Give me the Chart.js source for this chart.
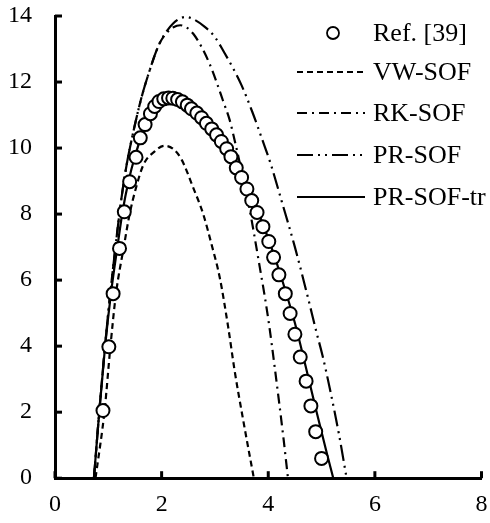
<!DOCTYPE html>
<html lang="en">
<head>
<meta charset="UTF-8">
<title>SOF curves</title>
<style>
  html, body { margin: 0; padding: 0; background: #fff; }
  #wrap { width: 490px; height: 523px; }
</style>
<script src="https://cdn.jsdelivr.net/npm/chart.js@4.4.0/dist/chart.umd.min.js"></script>
</head>
<body>
<div id="wrap"><canvas id="grafica"></canvas></div>
<script>
const xTicks = [0, 2, 4, 6, 8];
const yTicks = [0, 2, 4, 6, 8, 10, 12, 14];

// Ref. [39] (circles)
const refX = [0.90, 1.01, 1.09, 1.21, 1.30, 1.40, 1.52, 1.60, 1.69, 1.79, 1.87, 1.95, 2.04, 2.13, 2.21, 2.30, 2.39, 2.48, 2.56, 2.66,
              2.75, 2.84, 2.94, 3.03, 3.12, 3.22, 3.30, 3.40, 3.50, 3.60, 3.69, 3.79, 3.90, 4.01, 4.10, 4.20, 4.32, 4.41, 4.50, 4.60,
              4.71, 4.80, 4.89, 5.00];
const refY = [2.05, 3.98, 5.59, 6.96, 8.07, 8.98, 9.72, 10.31, 10.71, 11.04, 11.26, 11.41, 11.49, 11.52, 11.51, 11.47, 11.40, 11.30, 11.19, 11.06,
              10.92, 10.75, 10.58, 10.40, 10.20, 9.98, 9.74, 9.40, 9.11, 8.76, 8.41, 8.05, 7.62, 7.17, 6.69, 6.16, 5.59, 4.99, 4.36, 3.67,
              2.94, 2.19, 1.41, 0.60];

// VW-SOF
const vwX = [0.76, 0.93, 1.04, 1.145, 1.29, 1.40, 1.52, 1.66, 1.87, 2.05, 2.22, 2.375, 2.59, 2.78, 2.935, 3.09, 3.25, 3.37, 3.52, 3.73];
const vwY = [0, 2.05, 4.0, 5.6, 7.0, 8.0, 8.8, 9.5, 9.9, 10.07, 9.97, 9.65, 8.81, 8.0, 7.09, 6.08, 4.56, 3.25, 1.85, 0];

// RK-SOF
const rkX = [0.73, 0.84, 0.95, 1.05, 1.12, 1.20, 1.27, 1.35, 1.45, 1.57, 1.66, 1.785, 1.88, 1.97, 2.10, 2.22, 2.35, 2.47, 2.59, 2.75,
             2.90, 3.03, 3.15, 3.28, 3.37, 3.50, 3.65, 3.75, 3.84, 3.93, 4.02, 4.11, 4.20, 4.29, 4.37];
const rkY = [0, 2.2, 4.2, 5.8, 6.8, 7.9, 8.75, 9.55, 10.35, 11.2, 11.75, 12.4, 12.85, 13.2, 13.5, 13.66, 13.72, 13.65, 13.47, 13.06,
             12.55, 12.0, 11.44, 10.83, 10.23, 9.3, 8.15, 7.25, 6.4, 5.55, 4.6, 3.5, 2.35, 1.15, 0];

// PR-SOF
const prX = [0.73, 0.84, 0.95, 1.05, 1.12, 1.20, 1.27, 1.35, 1.45, 1.57, 1.66, 1.785, 1.88, 1.97, 2.10, 2.22, 2.35, 2.45, 2.60, 2.81,
             3.00, 3.18, 3.34, 3.50, 3.70, 3.90, 4.05, 4.25, 4.50, 4.74, 4.90, 5.02, 5.17, 5.33, 5.47];
const prY = [0, 2.2, 4.2, 5.8, 6.8, 7.9, 8.75, 9.55, 10.35, 11.2, 11.75, 12.4, 12.85, 13.2, 13.55, 13.78, 13.93, 13.97, 13.9, 13.67,
             13.36, 12.88, 12.42, 11.9, 11.1, 10.2, 9.5, 8.4, 7.0, 5.5, 4.45, 3.7, 2.6, 1.3, 0];

// PR-SOF-tr
const trX = [0.73, 0.83, 0.94, 1.05, 1.17, 1.27, 1.38, 1.50, 1.62, 1.75, 1.90, 2.05, 2.20, 2.35, 2.50, 2.70, 2.90, 3.10, 3.30, 3.50,
             3.70, 3.90, 4.10, 4.30, 4.50, 4.70, 4.90, 5.10, 5.22];
const trY = [0, 2.0, 4.0, 5.6, 7.0, 8.1, 9.0, 9.75, 10.35, 10.85, 11.25, 11.47, 11.52, 11.47, 11.33, 11.05, 10.7, 10.3, 9.8, 9.2,
             8.5, 7.7, 6.8, 5.8, 4.7, 3.4, 2.05, 0.75, 0];

const labels = ['Ref. [39]', 'VW-SOF', 'RK-SOF', 'PR-SOF', 'PR-SOF-tr'];

function pts(xs, ys) {
    return xs.map((x, i) => ({ x: x, y: ys[i] }));
}

const fontFam = "'Liberation Serif', 'Times New Roman', serif";

function lineSet(label, xs, ys, dash, width) {
    return {
        label: label,
        data: pts(xs, ys),
        showLine: true,
        borderColor: '#000',
        borderWidth: width,
        borderDash: dash,
        pointRadius: 0,
        fill: false,
        cubicInterpolationMode: 'monotone'
    };
}

// tick marks drawn inward, like the original plot
const insideTicks = {
    id: 'insideTicks',
    afterDraw(chart) {
        const ctx = chart.ctx;
        const xs = chart.scales.x, ys = chart.scales.y;
        const area = chart.chartArea;
        ctx.save();
        ctx.strokeStyle = '#000';
        ctx.lineWidth = 3;
        xTicks.forEach(v => {
            const px = xs.getPixelForValue(v);
            ctx.beginPath();
            ctx.moveTo(px, area.bottom);
            ctx.lineTo(px, area.bottom - 7);
            ctx.stroke();
        });
        yTicks.forEach(v => {
            const py = ys.getPixelForValue(v);
            ctx.beginPath();
            ctx.moveTo(area.left, py);
            ctx.lineTo(area.left + 7, py);
            ctx.stroke();
        });
        ctx.restore();
    }
};

// legend inside the plot, upper right
const boxLegend = {
    id: 'boxLegend',
    afterDraw(chart) {
        const ctx = chart.ctx;
        const rows = [33, 72, 113, 155, 197];
        const x0 = 297, x1 = 365, tx = 373;
        ctx.save();
        ctx.font = '26px ' + fontFam;
        ctx.fillStyle = '#000';
        ctx.textBaseline = 'middle';
        chart.data.datasets.forEach((ds, i) => {
            const y = rows[i];
            if (ds.showLine) {
                ctx.beginPath();
                ctx.setLineDash(ds.borderDash || []);
                ctx.lineWidth = ds.borderWidth;
                ctx.strokeStyle = '#000';
                ctx.moveTo(x0, y);
                ctx.lineTo(x1, y);
                ctx.stroke();
            } else {
                ctx.beginPath();
                ctx.setLineDash([]);
                ctx.lineWidth = 1.8;
                ctx.strokeStyle = '#000';
                ctx.arc((x0 + x1) / 2 + 2, y, 6, 0, Math.PI * 2);
                ctx.stroke();
            }
            ctx.fillText(ds.label, tx, y + 1);
        });
        ctx.restore();
    }
};

const config = {
    type: 'scatter',
    data: {
        datasets: [
            {
                label: labels[0],
                data: pts(refX, refY),
                showLine: false,
                pointRadius: 6.5,
                pointBorderWidth: 2,
                pointBackgroundColor: '#fff',
                pointBorderColor: '#000'
            },
            lineSet(labels[1], vwX, vwY, [6, 4], 2.2),
            lineSet(labels[2], rkX, rkY, [10, 5, 2, 5], 2.2),
            lineSet(labels[3], prX, prY, [16, 5, 2, 5, 2, 5], 2.2),
            lineSet(labels[4], trX, trY, [], 2.2)
        ]
    },
    options: {
        responsive: true,
        maintainAspectRatio: false,
        animation: false,
        devicePixelRatio: 1,
        layout: { padding: { left: -15, right: 4, top: 16, bottom: -8 } },
        plugins: {
            legend: { display: false },
            tooltip: { enabled: false }
        },
        scales: {
            x: {
                type: 'linear',
                min: 0,
                max: 8,
                afterBuildTicks: s => { s.ticks = xTicks.map(v => ({ value: v })); },
                afterFit: s => { s.paddingLeft = 0; s.paddingRight = 0; },
                ticks: { color: '#000', font: { family: fontFam, size: 24 }, padding: 12, maxRotation: 0 },
                grid: { drawOnChartArea: false, drawTicks: false },
                border: { display: true, color: '#000', width: 3 }
            },
            y: {
                type: 'linear',
                min: 0,
                max: 14,
                afterBuildTicks: s => { s.ticks = yTicks.map(v => ({ value: v })); },
                afterFit: s => { s.paddingTop = 0; s.paddingBottom = 0; },
                ticks: { color: '#000', font: { family: fontFam, size: 24 }, padding: 23 },
                grid: { drawOnChartArea: false, drawTicks: false },
                border: { display: true, color: '#000', width: 3 }
            }
        }
    },
    plugins: [insideTicks, boxLegend]
};

new Chart(document.getElementById('grafica'), config);
</script>
</body>
</html>
